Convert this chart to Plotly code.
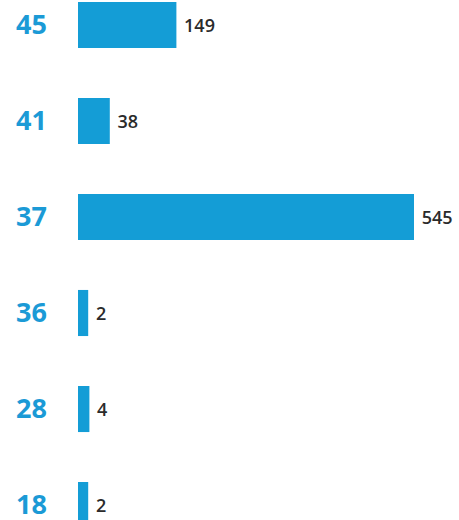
import plotly.graph_objects as go

categories = ["45", "41", "37", "36", "28", "18"]
values = [149, 38, 545, 2, 4, 2]

stub = 15  # visual minimum bar stub (style)
bar_color = "#149dd6"
label_color = "#1b9ad6"

fig = go.Figure(
    go.Bar(
        y=categories,
        x=[v + stub for v in values],
        base=-stub,
        orientation="h",
        width=0.48,
        marker=dict(color=bar_color, line=dict(width=0)),
        text=[str(v) for v in values],
        texttemplate=" %{text}",
        textposition="outside",
        constraintext="none",
        cliponaxis=False,
        hoverinfo="skip",
        textfont=dict(family="Open Sans", size=18, color="#2b2b2b", weight=600),
    )
)

fig.update_layout(
    width=459,
    height=520,
    margin=dict(l=78, r=0, t=0, b=0),
    paper_bgcolor="white",
    plot_bgcolor="white",
    showlegend=False,
    xaxis=dict(range=[-stub, 620], visible=False, automargin=False),
    yaxis=dict(
        categoryorder="array",
        categoryarray=categories,
        range=[5.156, -0.26],
        showgrid=False,
        zeroline=False,
        showline=False,
        ticks="",
        automargin=False,
        ticklabelstandoff=30,
        tickfont=dict(family="Open Sans", size=27, color=label_color, weight="bold"),
    ),
)

fig.write_html(
    "out.html",
    config={"displayModeBar": False, "staticPlot": True},
    post_script="document.body.style.margin='0';document.body.style.overflow='hidden';",
)
